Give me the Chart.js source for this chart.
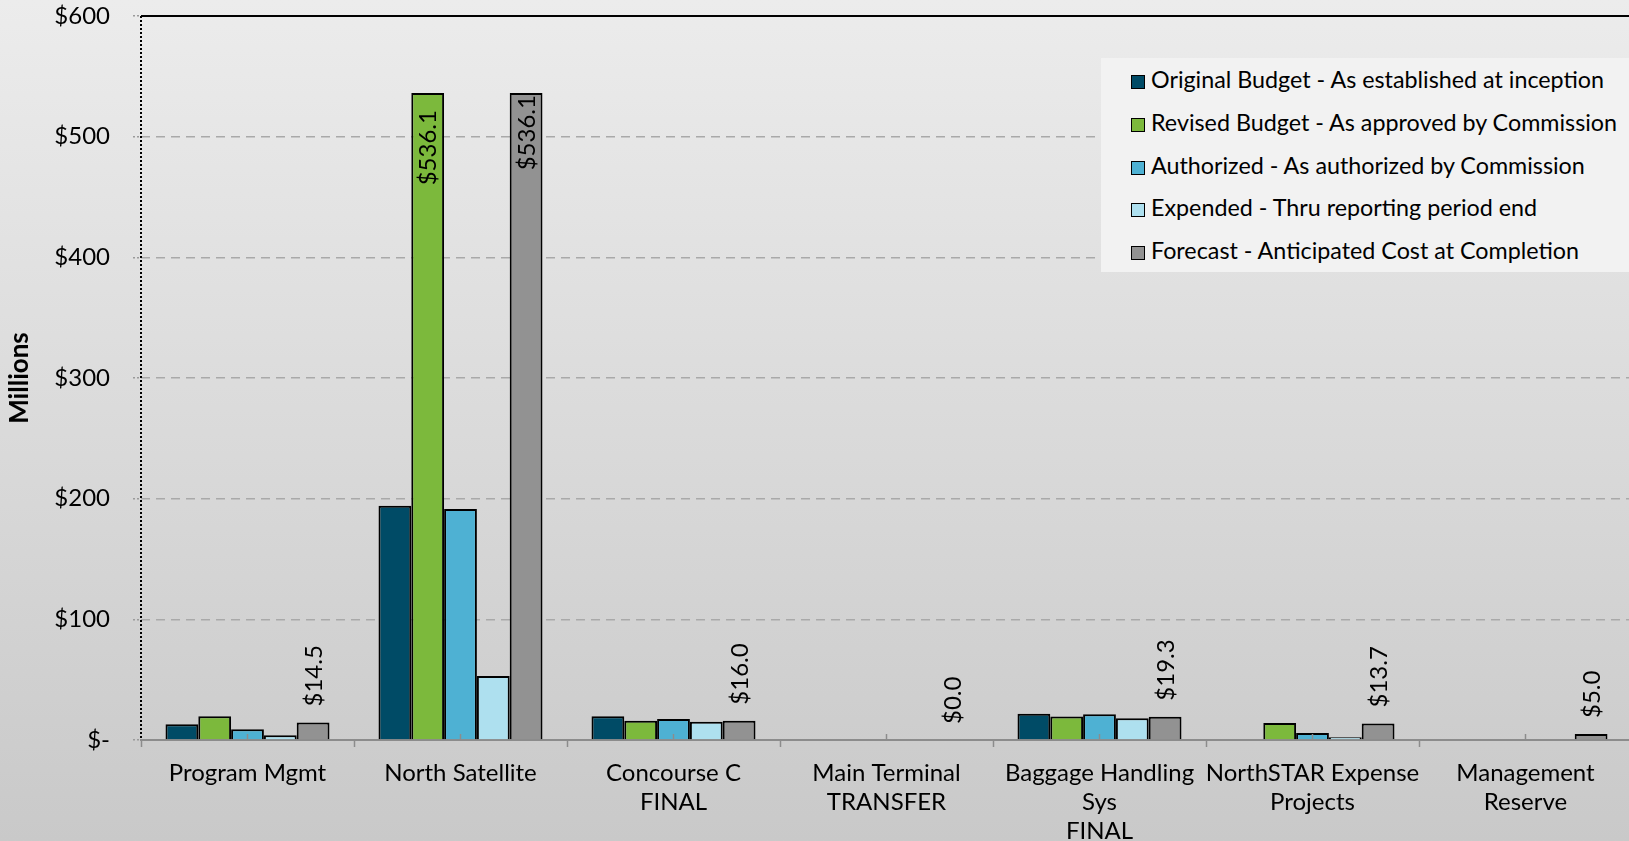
<!DOCTYPE html>
<html>
<head>
<meta charset="utf-8">
<script src="https://cdn.jsdelivr.net/npm/chart.js@4.4.1/dist/chart.umd.min.js"></script>
<style>
  html, body { margin: 0; padding: 0; overflow: hidden; }
  body {
    width: 1629px; height: 841px;
    background: linear-gradient(#ececec, #c9c9c9);
    font-family: Lato, sans-serif;
  }
  #wrap { position: absolute; left: 0; top: 0; width: 1632px; height: 841px; }
  #legend {
    position: absolute; left: 1101px; top: 58px; width: 540px; height: 214px;
    background: #f2f2f2;
  }
  #legend div {
    height: 42.75px; line-height: 42.75px; padding-left: 30px;
    font-size: 23.3px; color: #000; white-space: nowrap;
  }
  #legend span.box {
    display: inline-block; width: 12px; height: 12px; border: 1.5px solid #000;
    margin-right: 6px; vertical-align: -1px;
  }
</style>
</head>
<body>
<div id="wrap"><canvas id="budgetChart"></canvas></div>
<div id="legend"></div>

<script>
// categories (multi-line x labels)
const categories = [
  ['Program Mgmt'],
  ['North Satellite'],
  ['Concourse C', 'FINAL'],
  ['Main Terminal', 'TRANSFER'],
  ['Baggage Handling', 'Sys', 'FINAL'],
  ['NorthSTAR Expense', 'Projects'],
  ['Management', 'Reserve']
];

// $ millions
const originalBudget = [13.0, 194.1, 19.6, 0, 21.8, 0, 0];
const revisedBudget  = [19.6, 536.1, 16.0, 0, 19.5, 14.0, 0];
const authorized     = [9.0, 191.4, 17.5, 0, 21.4, 5.7, 0];
const expended       = [4.0, 53.0, 15.2, 0, 18.0, 2.3, 0];
const forecast       = [14.5, 536.1, 16.0, 0.0, 19.3, 13.7, 5.0];

const seriesNames = [
  'Original Budget - As established at inception',
  'Revised Budget - As approved by Commission',
  'Authorized - As authorized by Commission',
  'Expended - Thru reporting period end',
  'Forecast - Anticipated Cost at Completion'
];
const seriesColors = ['#004b66', '#7cb93c', '#4eb1d3', '#aee0ef', '#929292'];

const yTicks = [0, 100, 200, 300, 400, 500, 600];

const FONT = 'Lato, sans-serif';

// html legend, top right inside plot
document.getElementById('legend').innerHTML = seriesNames.map((name, i) =>
  `<div><span class="box" style="background:${seriesColors[i]}"></span>${name}</div>`
).join('');

// value labels: Forecast on every bar, Revised only on its peak
const barLabels = {
  id: 'barLabels',
  afterDatasetsDraw(chart) {
    const { ctx, chartArea } = chart;
    chart.data.datasets.forEach((ds, di) => {
      const isForecast = ds.label.startsWith('Forecast');
      const isRevised = ds.label.startsWith('Revised');
      if (!isForecast && !isRevised) return;
      const peak = Math.max(...ds.data);
      const meta = chart.getDatasetMeta(di);
      ds.data.forEach((v, i) => {
        if (isRevised && v !== peak) return;
        const bar = meta.data[i];
        const tall = (bar.base - bar.y) > chartArea.height / 2;
        ctx.save();
        ctx.font = '24px ' + FONT;
        ctx.fillStyle = '#000';
        ctx.textBaseline = 'middle';
        if (tall) {
          ctx.translate(bar.x + 1, bar.y + (isRevised ? 17 : 2));
          ctx.rotate(-Math.PI / 2);
          ctx.textAlign = 'right';
        } else {
          ctx.translate(bar.x + 1, bar.y - 16);
          ctx.rotate(-Math.PI / 2);
          ctx.textAlign = 'left';
        }
        ctx.fillText('$' + v.toFixed(1), 0, 0);
        ctx.restore();
      });
    });
  }
};

// plot frame: solid top line, dotted left axis, little centre ticks on x axis
const frame = {
  id: 'frame',
  afterDatasetsDraw(chart) {
    const { ctx, chartArea: { left, right, top, bottom } } = chart;
    const x = chart.scales.x;
    ctx.save();
    ctx.strokeStyle = '#000';
    ctx.lineWidth = 2;
    ctx.beginPath();
    ctx.moveTo(left, top);
    ctx.lineTo(right, top);
    ctx.stroke();
    ctx.setLineDash([2, 2]);
    ctx.lineWidth = 2;
    ctx.beginPath();
    ctx.moveTo(left, top);
    ctx.lineTo(left, bottom);
    ctx.stroke();
    ctx.setLineDash([]);
    ctx.strokeStyle = '#8c8c8c';
    ctx.lineWidth = 1.5;
    categories.forEach((c, i) => {
      const px = x.getPixelForValue(i);
      ctx.beginPath();
      ctx.moveTo(px, bottom);
      ctx.lineTo(px, bottom - 6);
      ctx.stroke();
    });
    ctx.restore();
  }
};

const seriesData = [originalBudget, revisedBudget, authorized, expended, forecast];

new Chart(document.getElementById('budgetChart'), {
  type: 'bar',
  data: {
    labels: categories,
    datasets: seriesData.map((d, i) => ({
      label: seriesNames[i],
      data: d,
      backgroundColor: seriesColors[i],
      borderColor: '#000',
      borderWidth: 2,
      categoryPercentage: 0.77,
      barPercentage: 1.0
    }))
  },
  options: {
    responsive: true,
    maintainAspectRatio: false,
    animation: false,
    layout: { padding: 0 },
    plugins: {
      legend: { display: false },
      tooltip: { enabled: false }
    },
    scales: {
      x: {
        afterFit: s => { s.height = 101; s.paddingLeft = 0; s.paddingRight = 0; },
        grid: {
          display: true,
          drawOnChartArea: false,
          drawTicks: true,
          tickLength: 7,
          tickColor: '#8c8c8c',
          tickWidth: 1.5
        },
        border: { display: true, color: '#8c8c8c', width: 2 },
        ticks: {
          color: '#000',
          font: { family: FONT, size: 24, lineHeight: 1.2 },
          padding: 12,
          maxRotation: 0,
          autoSkip: false
        }
      },
      y: {
        min: yTicks[0],
        max: yTicks[yTicks.length - 1],
        afterBuildTicks: axis => { axis.ticks = yTicks.map(v => ({ value: v })); },
        afterFit: s => { s.width = 141; s.paddingTop = 16; s.paddingBottom = 0; },
        grid: {
          color: '#a9a9a9',
          lineWidth: 1.5,
          tickLength: 8,
          tickColor: '#9a9a9a',
          tickBorderDash: [2, 2]
        },
        border: { display: false, dash: [9, 6] },
        ticks: {
          color: '#000',
          font: { family: FONT, size: 24 },
          padding: 23,
          callback: v => v === 0 ? '$-' : '$' + v
        },
        title: {
          display: true,
          text: 'Millions',
          color: '#000',
          font: { family: FONT, size: 26, weight: 'bold', lineHeight: 1.2 },
          padding: { top: 4, bottom: 18 }
        }
      }
    }
  },
  plugins: [barLabels, frame]
});
</script>
</body>
</html>
